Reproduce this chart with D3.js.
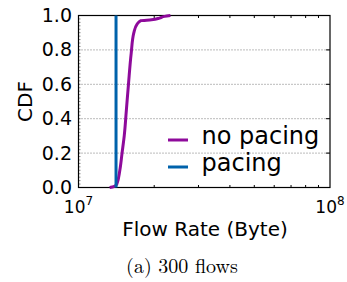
<!DOCTYPE html>
<html>
<head>
<meta charset="utf-8">
<script src="https://cdn.jsdelivr.net/npm/d3@7"></script>
<style>
  body { margin: 0; background: #fff; }
  svg { display: block; }
</style>
</head>
<body>
<svg id="chart"></svg>
<script>
// flow rate (Byte) vs CDF
const noPacingRate = [1.33e7, 1.38e7, 1.42e7, 1.46e7, 1.49e7, 1.52e7, 1.55e7, 1.58e7, 1.62e7, 1.66e7, 1.71e7, 1.77e7, 1.95e7, 2.1e7, 2.2e7, 2.32e7];
const noPacingCdf  = [0, 0.005, 0.02, 0.1, 0.2, 0.3, 0.45, 0.6, 0.78, 0.9, 0.95, 0.97, 0.975, 0.985, 0.995, 1.0];
const pacingRate = [1.41e7, 1.41e7];
const pacingCdf  = [0, 1.0];
const yTicks = [0, 0.2, 0.4, 0.6, 0.8, 1.0];
const xTicks = [1e7, 1e8];
const seriesNames = ["no pacing", "pacing"];
const seriesColors = ["#8e0a9b", "#0062ab"];

const WIDTH = 347, HEIGHT = 282;
const MARGIN = { top: 15.5, right: 17, bottom: 94.5, left: 78.5 };
const INNER_WIDTH = WIDTH - MARGIN.left - MARGIN.right;
const INNER_HEIGHT = HEIGHT - MARGIN.top - MARGIN.bottom;

const svg = d3.select("#chart").attr("width", WIDTH).attr("height", HEIGHT);
const g = svg.append("g").attr("transform", "translate(" + MARGIN.left + "," + MARGIN.top + ")");

const xScale = d3.scaleLog().domain([1e7, 1e8]).range([0, INNER_WIDTH]);
const yScale = d3.scaleLinear().domain([0, 1]).range([INNER_HEIGHT, 0]);

// dotted grid
g.selectAll(".grid")
  .data(yTicks.filter(d => d > 0 && d < 1))
  .enter().append("line")
  .attr("x1", 0).attr("x2", INNER_WIDTH)
  .attr("y1", d => yScale(d)).attr("y2", d => yScale(d))
  .attr("stroke", "#777").attr("stroke-width", 1)
  .attr("stroke-dasharray", "1,2");

// minor ticks
const minorX = [];
for (let k = 2; k <= 9; k++) minorX.push(k * 1e7);
g.selectAll(".mxb").data(minorX).enter().append("line")
  .attr("x1", d => xScale(d)).attr("x2", d => xScale(d))
  .attr("y1", INNER_HEIGHT).attr("y2", INNER_HEIGHT - 2.5)
  .attr("stroke", "#000");
g.selectAll(".mxt").data(minorX).enter().append("line")
  .attr("x1", d => xScale(d)).attr("x2", d => xScale(d))
  .attr("y1", 0).attr("y2", 2.5)
  .attr("stroke", "#000");
const minorY = d3.range(0, 1.0001, 0.02);
g.selectAll(".myl").data(minorY).enter().append("line")
  .attr("x1", 0).attr("x2", 2)
  .attr("y1", d => yScale(d)).attr("y2", d => yScale(d))
  .attr("stroke", "#555").attr("stroke-width", 0.7);
g.selectAll(".myr").data(yTicks).enter().append("line")
  .attr("x1", INNER_WIDTH).attr("x2", INNER_WIDTH - 4)
  .attr("y1", d => yScale(d)).attr("y2", d => yScale(d))
  .attr("stroke", "#000");

// frame
g.append("rect")
  .attr("width", INNER_WIDTH).attr("height", INNER_HEIGHT)
  .attr("fill", "none").attr("stroke", "#000").attr("stroke-width", 1.2);

// y axis labels
const yAxis = d3.axisLeft(yScale).tickValues(yTicks).tickSize(0).tickPadding(6.5).tickFormat(d3.format(".1f"));
const yG = g.append("g").call(yAxis);
yG.select(".domain").remove();
yG.selectAll("text").attr("font-family", "DejaVu Sans").attr("font-size", 19).attr("fill", "#000");

// x axis labels with superscripts
const xG = g.append("g").attr("transform", "translate(0," + INNER_HEIGHT + ")");
const xLab = xG.selectAll(".xl").data(xTicks).enter().append("text")
  .attr("x", d => xScale(d)).attr("y", 25.5)
  .attr("text-anchor", "middle")
  .attr("font-family", "DejaVu Sans").attr("font-size", 17).attr("fill", "#000");
xLab.append("tspan").text("10");
xLab.append("tspan").attr("dy", -8).attr("font-size", 12).text(d => Math.round(Math.log10(d)));

// lines
const line = d3.line().x(d => xScale(d[0])).y(d => yScale(d[1])).curve(d3.curveMonotoneY);
const series = [
  d3.zip(noPacingRate, noPacingCdf),
  d3.zip(pacingRate, pacingCdf)
];
g.selectAll(".series").data(series).enter().append("path")
  .attr("d", d => line(d))
  .attr("fill", "none")
  .attr("stroke", (d, i) => seriesColors[i])
  .attr("stroke-width", 3);

// legend
const legend = g.append("g");
seriesNames.forEach((name, i) => {
  const ly = 124.5 + i * 27;
  legend.append("line")
    .attr("x1", 89.5).attr("x2", 109.5)
    .attr("y1", ly).attr("y2", ly)
    .attr("stroke", seriesColors[i]).attr("stroke-width", 3);
  legend.append("text")
    .attr("x", 123).attr("y", ly + 4)
    .attr("font-family", "DejaVu Sans").attr("font-size", 24).attr("fill", "#000")
    .text(name);
});

// axis titles
svg.append("text")
  .attr("transform", "translate(32," + (MARGIN.top + INNER_HEIGHT / 2) + ") rotate(-90)")
  .attr("text-anchor", "middle")
  .attr("font-family", "DejaVu Sans").attr("font-size", 20)
  .text("CDF");
svg.append("text")
  .attr("x", 205).attr("y", 236)
  .attr("text-anchor", "middle")
  .attr("font-family", "DejaVu Sans").attr("font-size", 20)
  .text("Flow Rate (Byte)");

// caption
svg.append("text")
  .attr("x", 182).attr("y", 273)
  .attr("text-anchor", "middle")
  .attr("font-family", "Latin Modern Roman, CMU Serif, DejaVu Serif, serif").attr("font-size", 20)
  .text("(a) 300 flows");
</script>
</body>
</html>
